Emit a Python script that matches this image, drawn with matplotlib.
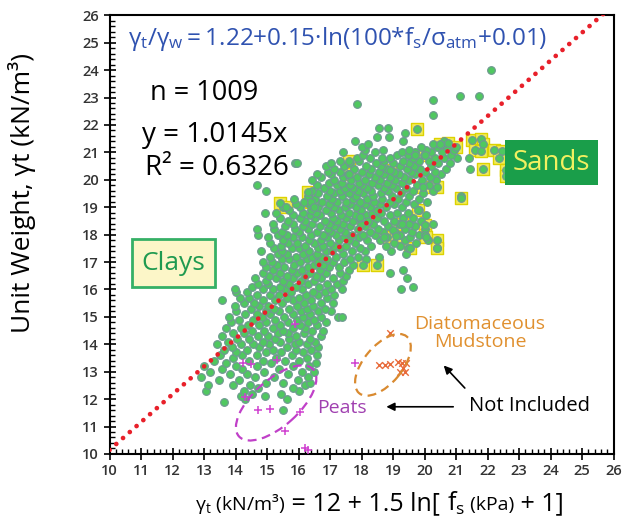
import matplotlib
matplotlib.use("Agg")
import matplotlib.pyplot as plt
import numpy as np
from matplotlib.patches import Rectangle, Ellipse
from matplotlib.ticker import MultipleLocator, AutoMinorLocator
from matplotlib.transforms import ScaledTranslation
from matplotlib.offsetbox import TextArea, HPacker, AnchoredOffsetbox

plt.rcParams['font.family'] = ['Open Sans', 'DejaVu Sans']
plt.rcParams['mathtext.fontset'] = 'custom'
plt.rcParams['mathtext.rm'] = 'Open Sans'
plt.rcParams['mathtext.it'] = 'Open Sans:italic'
plt.rcParams['mathtext.bf'] = 'Open Sans:bold'

# CPT data: measured unit weight (row) and the x positions (estimated gamma) at that level
cloud_rows = [
    (11.6, [15.5]),
    (11.9, [13.62]),
    (12.0, [14.31, 15.62]),
    (12.1, [14.18, 14.95]),
    (12.2, [14.52, 15.44]),
    (12.3, [13.05, 14.27, 16.02]),
    (12.4, [14.71, 15.83]),
    (12.5, [13.12, 13.93, 14.45, 16.21]),
    (12.6, [14.98, 15.52, 16.38]),
    (12.7, [13.47, 14.12, 15.97]),
    (12.8, [12.92, 14.63, 15.21, 16.29]),
    (12.9, [13.84, 14.38, 15.66]),
    (13.0, [13.18, 14.91, 16.12, 16.48]),
    (13.1, [13.58, 14.22, 15.37]),
    (13.2, [13.01, 14.02, 14.69, 15.81, 16.33]),
    (13.3, [13.71, 15.12, 16.55]),
    (13.4, [13.33, 14.43, 14.86, 15.58, 16.02]),
    (13.5, [13.92, 15.28, 16.28]),
    (13.6, [13.51, 14.21, 14.67, 15.79, 16.58]),
    (13.7, [14.02, 14.96, 15.45, 16.14]),
    (13.8, [13.64, 14.37, 15.19, 15.93, 16.41]),
    (13.9, [13.88, 14.74, 15.62, 16.63]),
    (14.0, [13.42, 14.16, 14.55, 15.07, 15.88, 16.27]),
    (14.1, [13.77, 14.88, 15.41, 16.01, 16.52]),
    (14.2, [14.05, 14.42, 15.24, 15.71, 16.36]),
    (14.3, [13.56, 14.71, 15.02, 15.93, 16.71]),
    (14.4, [13.93, 14.28, 15.36, 15.66, 16.18]),
    (14.5, [14.52, 14.91, 15.51, 16.44, 16.79]),
    (14.6, [13.71, 14.17, 15.18, 15.83, 16.22]),
    (14.7, [14.39, 14.76, 15.42, 16.05, 16.58]),
    (14.8, [13.86, 14.98, 15.67, 16.31, 16.87]),
    (14.9, [14.12, 14.55, 15.24, 15.96, 16.49]),
    (15.0, [13.79, 14.83, 15.53, 16.14, 16.72, 17.25, 17.37]),
    (15.1, [14.31, 14.67, 15.09, 15.82, 16.36]),
    (15.2, [14.03, 14.96, 15.38, 16.07, 16.61, 17.02]),
    (15.3, [14.48, 15.21, 15.71, 16.28, 16.84]),
    (15.4, [13.97, 14.74, 15.02, 15.95, 16.47]),
    (15.5, [14.27, 14.59, 15.47, 16.18, 16.73, 17.08]),
    (15.6, [13.58, 14.88, 15.26, 15.81, 16.39]),
    (15.7, [14.15, 14.43, 15.63, 16.02, 16.91]),
    (15.8, [14.69, 15.09, 15.38, 16.24, 16.61, 17.12]),
    (15.9, [14.02, 14.38, 15.77, 16.45, 16.83]),
    (16.0, [13.98, 14.86, 15.19, 15.58, 16.12, 17.03, 17.38, 19.25]),
    (16.1, [14.53, 15.41, 15.92, 16.66, 19.62]),
    (16.2, [14.72, 15.04, 15.71, 16.29, 16.92, 17.22]),
    (16.3, [14.96, 15.52, 16.08, 16.49, 17.41]),
    (16.4, [14.63, 15.29, 15.84, 16.73, 17.11, 19.43]),
    (16.5, [15.07, 15.63, 16.22, 16.57, 17.52]),
    (16.6, [14.88, 15.41, 15.96, 16.38, 16.88, 17.31, 18.92]),
    (16.7, [15.19, 15.78, 16.12, 16.69, 17.61, 19.31]),
    (16.8, [14.98, 15.53, 16.31, 16.96, 17.27]),
    (16.9, [15.32, 15.87, 16.49, 16.77, 17.74]),
    (17.0, [14.87, 15.16, 16.05, 16.61, 17.08, 17.46]),
    (17.1, [15.48, 15.71, 16.27, 16.91, 17.62, 18.14]),
    (17.2, [15.08, 15.92, 16.43, 16.72, 17.19, 17.88, 18.57]),
    (17.3, [15.34, 15.62, 16.14, 16.58, 17.41, 19.42]),
    (17.4, [14.81, 15.49, 16.33, 16.86, 17.07, 17.71, 18.12, 18.93]),
    (17.5, [15.21, 15.78, 16.01, 16.62, 17.33, 17.96, 19.48, 20.41]),
    (17.6, [15.44, 16.21, 16.77, 17.14, 17.52, 18.31, 18.77, 19.21]),
    (17.7, [15.11, 15.67, 15.96, 16.48, 16.99, 17.79, 19.03, 19.72]),
    (17.8, [15.52, 16.32, 16.71, 17.28, 17.61, 18.19, 18.58, 19.37, 20.12]),
    (17.9, [15.03, 15.83, 16.12, 16.92, 17.44, 17.92, 18.81, 19.55]),
    (18.0, [14.71, 15.34, 15.64, 16.41, 16.79, 17.19, 17.71, 18.04, 18.42, 19.23, 19.84]),
    (18.1, [15.49, 16.03, 16.58, 17.02, 17.49, 18.27, 18.69, 19.07, 19.61]),
    (18.2, [14.68, 15.22, 15.88, 16.29, 16.94, 17.33, 17.88, 18.52, 19.38, 20.02]),
    (18.3, [15.58, 16.13, 16.68, 17.13, 17.62, 18.11, 18.84, 19.71]),
    (18.4, [15.19, 15.81, 16.42, 16.97, 17.41, 17.97, 18.38, 19.18, 19.52, 20.28]),
    (18.5, [15.67, 16.21, 16.83, 17.23, 17.74, 18.22, 18.71, 19.02, 19.88]),
    (18.6, [15.41, 16.04, 16.52, 17.08, 17.52, 17.91, 18.49, 19.31, 19.64]),
    (18.7, [15.83, 16.36, 16.69, 17.34, 17.79, 18.13, 18.92, 20.04]),
    (18.8, [14.93, 15.29, 16.14, 16.57, 17.03, 17.61, 18.33, 18.62, 19.12, 19.47]),
    (18.9, [15.71, 16.41, 16.88, 17.28, 17.97, 18.48, 19.81]),
    (19.0, [15.52, 16.06, 16.62, 17.13, 17.48, 17.82, 18.27, 18.79, 19.29]),
    (19.1, [15.92, 16.33, 16.97, 17.64, 18.12, 18.58, 19.03, 19.67]),
    (19.2, [16.18, 16.74, 17.22, 17.51, 17.94, 18.41, 18.89, 19.41, 20.08]),
    (19.3, [15.86, 16.52, 17.07, 17.72, 18.19, 18.66, 19.17, 19.84]),
    (19.4, [16.29, 16.91, 17.38, 17.83, 18.37, 18.98, 19.52, 21.15]),
    (19.5, [16.63, 17.12, 17.59, 18.06, 18.61, 19.24, 19.96]),
    (19.6, [14.98, 16.43, 16.99, 17.31, 17.89, 18.31, 18.83, 19.63, 20.27]),
    (19.7, [16.82, 17.48, 17.74, 18.18, 18.72, 19.11, 19.41]),
    (19.8, [14.67, 16.58, 17.21, 17.62, 18.03, 18.53, 18.96, 19.77, 20.14]),
    (19.9, [16.97, 17.37, 17.91, 18.34, 18.81, 19.28]),
    (20.0, [16.42, 17.14, 17.68, 18.12, 18.58, 19.07, 19.52, 19.92, 20.38]),
    (20.1, [16.71, 17.42, 17.87, 18.42, 18.91, 19.36, 20.17]),
    (20.2, [16.58, 17.03, 17.57, 18.23, 18.71, 19.18, 19.71, 20.52]),
    (20.3, [16.94, 17.31, 18.02, 18.54, 19.02, 19.57, 20.03, 20.34]),
    (20.4, [17.12, 17.76, 18.31, 18.82, 19.43, 19.86, 20.67, 21.44]),
    (20.5, [16.88, 17.45, 18.14, 18.62, 19.21, 19.68, 20.21]),
    (20.6, [15.89, 15.95, 17.02, 17.62, 18.47, 18.99, 19.51, 20.42, 20.81]),
    (20.7, [17.31, 17.91, 18.73, 19.32, 19.83, 20.13]),
    (20.8, [17.85, 18.28, 18.64, 18.91, 19.62, 20.32, 20.62, 21.03, 21.42]),
    (20.9, [18.06, 19.12, 19.47, 19.98, 20.84]),
    (21.0, [17.42, 18.43, 19.28, 19.71, 20.21, 20.54]),
    (21.1, [18.11, 18.69, 19.52, 20.06, 20.93]),
    (21.2, [18.03, 19.88, 20.39, 20.71]),
    (21.3, [18.22, 20.28, 20.57]),
    (21.4, [17.79, 19.31, 20.62]),
    (21.55, [18.5, 18.88]),
    (21.7, [19.38]),
    (21.9, [18.57, 18.85]),
    (22.35, [20.27]),
    (22.75, [17.85]),
    (22.9, [20.27]),
    (23.07, [21.13, 21.74]),
    (24.0, [22.1]),
]

# sand samples, drawn with a yellow square behind the dot
sand_x = [19.75, 20.5, 20.75, 21.0, 21.5, 21.8, 21.85, 21.6, 21.8, 22.2, 22.45, 22.35,
          21.85, 22.6, 22.6, 21.15, 17.6, 17.6, 18.9, 19.7, 20.0, 15.4, 15.6, 16.3,
          16.4, 16.5, 19.96, 20.39, 20.0, 20.0, 20.39, 20.39, 19.0, 19.1, 19.54, 18.06,
          18.48, 17.95, 18.2, 19.3, 19.8, 18.7, 20.06]
sand_y = [21.85, 21.3, 21.35, 21.2, 21.45, 21.5, 21.3, 21.1, 21.05, 21.1, 21.05, 20.8,
          20.4, 20.35, 20.15, 19.35, 20.7, 20.2, 20.35, 20.9, 20.9, 19.15, 19.0, 19.55,
          19.2, 19.0, 19.74, 19.74, 18.35, 18.0, 17.8, 17.5, 18.16, 17.95, 17.5, 16.9,
          16.9, 18.65, 18.5, 18.4, 18.9, 17.9, 17.93]

# peats (not included)
peat_x = [14.25, 14.5, 15.31, 15.89, 14.3, 14.72, 15.1, 16.05, 15.57, 16.2, 16.3, 17.79]
peat_y = [13.31, 13.29, 13.43, 14.74, 12.09, 11.6, 11.65, 11.54, 10.84, 10.2, 10.15, 13.33]

# diatomaceous mudstone (not included)
diat_x = [18.9, 18.57, 18.75, 18.9, 19.17, 19.28, 19.41, 19.33, 19.22, 19.38]
diat_y = [14.42, 13.25, 13.25, 13.28, 13.37, 13.33, 13.33, 13.12, 13.0, 13.0]

slope = 1.0145

cloud_x = [x for y, xs in cloud_rows for x in xs]
cloud_y = [y for y, xs in cloud_rows for x in xs]

fig = plt.figure(figsize=(6.25, 5.26), dpi=100)
ax = fig.add_axes([0.1752, 0.137, 0.8064, 0.834])

ax.scatter(sand_x, sand_y, marker='s', s=70, facecolor='#f0ec5a', edgecolor='#ddd200',
           linewidth=1.0, zorder=2)
ax.scatter(cloud_x + sand_x, cloud_y + sand_y, s=30, facecolor='#50c860', edgecolor='#6e9a90',
           linewidth=0.9, zorder=3)

# regression line through the origin
line_x = np.array([10, 26])
ax.plot(line_x, slope * line_x, color='#e8202a', lw=3.4, linestyle=(0, (0.01, 1.9)),
        dash_capstyle='round', zorder=4)

ax.scatter(peat_x, peat_y, marker='+', s=40, color='#d040d0', linewidth=1.1, zorder=5)
ax.scatter(diat_x, diat_y, marker='x', s=22, color='#e86a3a', linewidth=1.0, zorder=5)

# outlines round the excluded groups
peat_shape = Ellipse((0, 0), 1.0, 0.46, angle=42, fill=False, edgecolor='#c040c8',
                     lw=1.6, linestyle=(0, (4, 2.5)), zorder=5,
                     transform=fig.dpi_scale_trans + ScaledTranslation(15.29, 11.86, ax.transData))
ax.add_patch(peat_shape)
diat_shape = Ellipse((0, 0), 0.74, 0.38, angle=50, fill=False, edgecolor='#d98a30',
                     lw=1.6, linestyle=(0, (4, 2.5)), zorder=5,
                     transform=fig.dpi_scale_trans + ScaledTranslation(18.68, 13.25, ax.transData))
ax.add_patch(diat_shape)

ax.set_xlim(10, 26)
ax.set_ylim(10, 26)
ax.xaxis.set_major_locator(MultipleLocator(1))
ax.yaxis.set_major_locator(MultipleLocator(1))
ax.xaxis.set_minor_locator(AutoMinorLocator(5))
ax.yaxis.set_minor_locator(AutoMinorLocator(5))
ax.tick_params(which='major', direction='inout', length=8, width=1.2, labelsize=10.5,
               labelcolor='#333333', top=False, right=False)
ax.tick_params(which='minor', direction='in', length=3.5, width=1.0, top=False, right=False)
for lab in ax.get_xticklabels() + ax.get_yticklabels():
    lab.set_fontweight('semibold')
for sp in ax.spines.values():
    sp.set_linewidth(1.5)

ax.set_ylabel('Unit Weight, γt (kN/m³)', fontsize=19)
ax.yaxis.set_label_coords(-0.145, 0.595)

# text annotations
ax.text(10.6, 25.15, r'$\mathrm{γ_t/γ_w = 1.22{+}0.15·ln(100{*}f_s/σ_{atm}{+}0.01)}$',
        color='#2f52b0', fontsize=17.5, va='center', ha='left')
ax.text(11.3, 23.16, 'n = 1009', fontsize=19.5, va='center', ha='left')
ax.text(11.03, 21.63, 'y = 1.0145x', fontsize=20, va='center', ha='left')
ax.text(11.13, 20.42, 'R² = 0.6326', fontsize=20, va='center', ha='left')

ax.add_patch(Rectangle((10.7, 16.08), 2.65, 1.75, facecolor='#fcf6c8', edgecolor='#35b066',
                       lw=2.0, zorder=6))
ax.text(12.02, 16.95, 'Clays', color='#1f9a50', fontsize=19, ha='center', va='center', zorder=7)
ax.add_patch(Rectangle((22.55, 19.8), 2.95, 1.65, facecolor='#1a9e4a', edgecolor='none', zorder=6))
ax.text(24.02, 20.62, 'Sands', color='#f2f060', fontsize=20, ha='center', va='center', zorder=7)

ax.text(21.76, 14.4, 'Diatomaceous\nMudstone', color='#e0902f', fontsize=14, ha='center',
        va='center', linespacing=1.0)
ax.text(16.6, 11.68, 'Peats', color='#a040b0', fontsize=14, ha='left', va='center')
ax.text(21.4, 11.75, 'Not Included', color='black', fontsize=14.5, ha='left', va='center')
ax.annotate('', xy=(18.7, 11.72), xytext=(21.0, 11.72),
            arrowprops=dict(arrowstyle='-|>', color='black', lw=1.2, mutation_scale=12))
ax.annotate('', xy=(20.55, 13.3), xytext=(21.34, 12.33),
            arrowprops=dict(arrowstyle='-|>', color='black', lw=1.2, mutation_scale=12))

# x-axis title, mixed font sizes
pieces = [
    (r'$\mathrm{γ_t}$ (kN/m³)', 14),
    (' = 12 + 1.5 ln[ ', 18),
    (r'$\mathrm{f_s}$', 18),
    (' (kPa)', 14),
    (' + 1]', 18),
]
boxes = [TextArea(t, textprops=dict(fontsize=fs, color='black')) for t, fs in pieces]
xtitle = HPacker(children=boxes, align='baseline', pad=0, sep=0)
anchored = AnchoredOffsetbox(loc='center', child=xtitle, frameon=False, pad=0,
                             bbox_to_anchor=(379.5 / 625, 1 - 503 / 526),
                             bbox_transform=fig.transFigure, borderpad=0)
fig.add_artist(anchored)

fig.savefig('out.png', dpi=100, facecolor='white')
